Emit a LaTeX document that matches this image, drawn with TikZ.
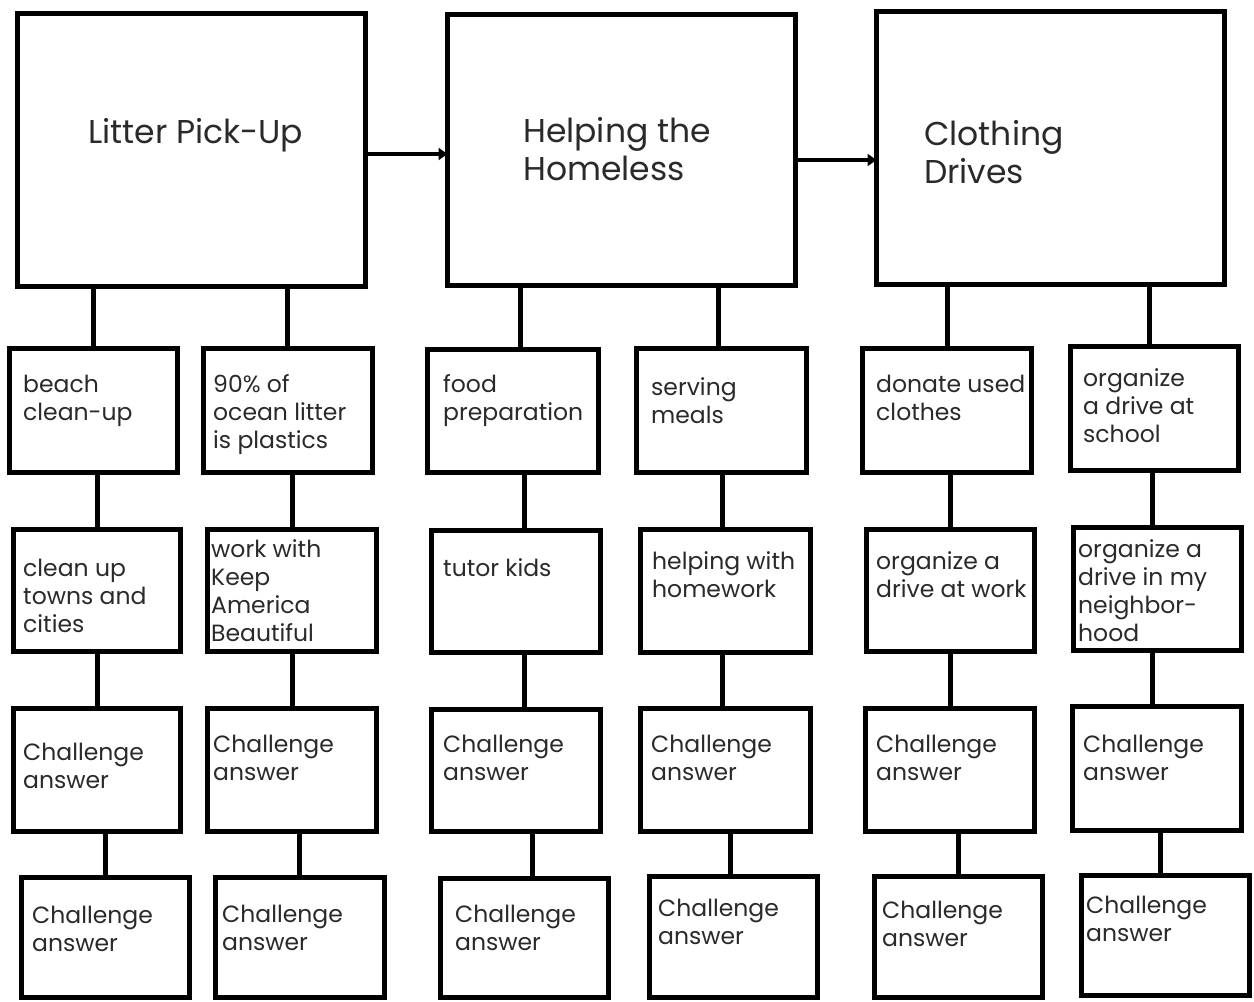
\documentclass[tikz,border=0pt]{standalone}
\usepackage{fontspec}
\setmainfont{Poppins}
\usetikzlibrary{arrows.meta,calc}
\definecolor{txt}{HTML}{2A2A2A}
\tikzset{
 boxst/.style={draw=black, line width=5pt, inner sep=0pt, outer sep=0pt, fill=white},
 connline/.style={line width=5pt, draw=black},
 arrline/.style={line width=4.5pt, draw=black, -{Triangle[length=9pt,width=12pt]}},
 lbl/.style={anchor=base west, inner sep=0pt, text=txt, font=\fontsize{23.5}{28}\selectfont},
 ttl/.style={anchor=base west, inner sep=0pt, text=txt, font=\fontsize{33}{38}\selectfont},
}
\newcommand\bx[5]{\node[boxst, minimum width={(#4)-(#2)-5}, minimum height={(#5)-(#3)-5}] (#1) at ({((#2)+(#4))/2},{((#3)+(#5))/2}) {};}
\newcommand\tx[4]{\node[#1] (#2) at (#3) {\begin{tabular}[t]{@{}l@{}}#4\end{tabular}};}
\newcommand\cn[3]{\coordinate (cnlow) at ($(#2.north)+(#3,0)$); \draw[connline] (cnlow) -- (cnlow |- #1.south);}
\begin{document}
\begin{tikzpicture}[x=1pt,y=-1pt]
\useasboundingbox (0,0) rectangle (1254,1002);
% top boxes
\bx{A}{15}{11}{368}{289}
\bx{B}{445}{12}{798}{288}
\bx{C}{874}{9}{1227}{287}
% column a
\bx{a11}{7}{346}{180}{475}
\bx{a21}{201}{346}{375}{475}
\bx{a12}{11}{527}{183}{654}
\bx{a22}{205}{527}{379}{654}
\bx{a13}{11}{706}{183}{834}
\bx{a23}{205}{706}{379}{834}
\bx{a14}{19}{875}{192}{1000}
\bx{a24}{213}{875}{387}{1000}
% column b
\bx{b11}{425}{347}{601}{475}
\bx{b21}{634}{346}{809}{475}
\bx{b12}{429}{528}{603}{655}
\bx{b22}{638}{527}{813}{655}
\bx{b13}{429}{707}{603}{834}
\bx{b23}{638}{706}{813}{834}
\bx{b14}{438}{876}{611}{1000}
\bx{b24}{647}{874}{820}{1000}
% column c
\bx{c11}{860}{346}{1034}{475}
\bx{c21}{1068}{344}{1241}{473}
\bx{c12}{864}{527}{1037}{654}
\bx{c22}{1071}{525}{1244}{653}
\bx{c13}{863}{706}{1037}{834}
\bx{c23}{1070}{704}{1244}{833}
\bx{c14}{872}{874}{1045}{1000}
\bx{c24}{1079}{873}{1252}{998}
% arrows
\draw[arrline] ($(A.east)+(0,4)$) -- ($(B.west)+(0,4)$);
\draw[arrline] ($(B.east)+(0,10)$) -- ($(C.west)+(0,12)$);
% connectors
\cn{A}{a11}{0} \cn{a11}{a12}{0} \cn{a12}{a13}{0} \cn{a13}{a14}{0}
\cn{A}{a21}{-1} \cn{a21}{a22}{0} \cn{a22}{a23}{0} \cn{a23}{a24}{-1}
\cn{B}{b11}{7} \cn{b11}{b12}{8} \cn{b12}{b13}{8} \cn{b13}{b14}{7.5}
\cn{B}{b21}{-3.5} \cn{b21}{b22}{-3.5} \cn{b22}{b23}{-3.5} \cn{b23}{b24}{-3.5}
\cn{C}{c11}{0} \cn{c11}{c12}{0} \cn{c12}{c13}{0} \cn{c13}{c14}{0}
\cn{C}{c21}{-5.5} \cn{c21}{c22}{-5.5} \cn{c22}{c23}{-5} \cn{c23}{c24}{-5.5}
% titles
\tx{ttl}{tA}{88,143}{Litter Pick-Up}
\tx{ttl}{tB}{523,142}{Helping the\\Homeless}
\tx{ttl}{tC}{924,145}{Clothing\\Drives}
% texts column a
\tx{lbl}{ta11}{23,392}{beach\\clean-up}
\tx{lbl}{ta21}{213,392}{90\% of\\ocean litter\\is plastics}
\tx{lbl}{ta12}{23,576}{clean up\\towns and\\cities}
\tx{lbl}{ta22}{211,557}{work with\\Keep\\America\\Beautiful}
\tx{lbl}{ta13}{23,760}{Challenge\\answer}
\tx{lbl}{ta23}{213,752}{Challenge\\answer}
\tx{lbl}{ta14}{32,923}{Challenge\\answer}
\tx{lbl}{ta24}{222,922}{Challenge\\answer}
% texts column b
\tx{lbl}{tb11}{443,392}{food\\preparation}
\tx{lbl}{tb21}{651,395}{serving\\meals}
\tx{lbl}{tb12}{443,576}{tutor kids}
\tx{lbl}{tb22}{652,569}{helping with\\homework}
\tx{lbl}{tb13}{443,752}{Challenge\\answer}
\tx{lbl}{tb23}{651,752}{Challenge\\answer}
\tx{lbl}{tb14}{455,922}{Challenge\\answer}
\tx{lbl}{tb24}{658,916}{Challenge\\answer}
% texts column c
\tx{lbl}{tc11}{876,392}{donate used\\clothes}
\tx{lbl}{tc21}{1083,386}{organize\\a drive at\\school}
\tx{lbl}{tc12}{876,569}{organize a\\drive at work}
\tx{lbl}{tc22}{1078,557}{organize a\\drive in my\\neighbor-\\hood}
\tx{lbl}{tc13}{876,752}{Challenge\\answer}
\tx{lbl}{tc23}{1083,752}{Challenge\\answer}
\tx{lbl}{tc14}{882,918}{Challenge\\answer}
\tx{lbl}{tc24}{1086,913}{Challenge\\answer}
\end{tikzpicture}
\end{document}
